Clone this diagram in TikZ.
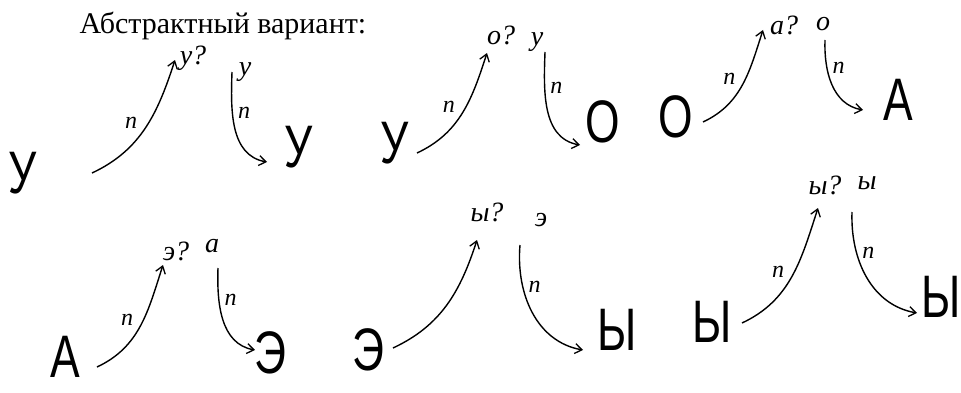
\documentclass[tikz,border=0pt]{standalone}
\usepackage{fontspec}
\setmainfont{Liberation Serif}
\newfontfamily\capsfont{Liberation Sans}
\usetikzlibrary{arrows.meta}
\tikzset{
  big/.style={inner sep=0pt, anchor=base, font=\capsfont\fontsize{60}{62}\selectfont},
  small/.style={inner sep=0pt, font=\itshape\fontsize{28}{30}\selectfont},
  lab/.style={inner sep=0pt, font=\itshape\fontsize{24}{26}\selectfont},
  arr/.style={line width=1.4pt, -{Straight Barb[length=7pt,width=10pt,line width=1.3pt]}},
}
\newcommand{\nc}[1]{\scalebox{0.74}[1]{#1}}
\begin{document}
\begin{tikzpicture}[x=1pt,y=1pt]
\useasboundingbox (0,0) rectangle (961,392);
\clip (0,0) rectangle (961,392);
\fill[white] (0,0) rectangle (961,392);
\node[font=\fontsize{30}{34}\selectfont, inner sep=0pt] (hdr) at (223,366) {Абстрактный вариант:};
% row 1
\node[big] (u1) at (23,199) {\nc{У}};
\node[small] (q1) at (193,334) {у?};
\node[small] (s1) at (245,320) {у};
\node[big] (u2) at (299,225) {\nc{У}};
\node[big] (u3) at (395,229) {\nc{У}};
\node[small] (q2) at (501,357) {о?};
\node[small] (s2) at (537,350) {у};
\node[big] (o1) at (603,250) {\nc{О}};
\node[big] (o2) at (676,255) {\nc{О}};
\node[small] (q3) at (784,367) {а?};
\node[small] (s3) at (823,368) {о};
\node[big] (a1) at (898,272) {\nc{А}};
\coordinate (a1s) at (92,219); \coordinate (a1e) at (175,332);
\coordinate (a2s) at (232,320); \coordinate (a2e) at (267,230);
\coordinate (a3s) at (417,239); \coordinate (a3e) at (487,339);
\coordinate (a4s) at (545,340); \coordinate (a4e) at (580,247);
\coordinate (a5s) at (703,270); \coordinate (a5e) at (763,362);
\coordinate (a6s) at (825,352); \coordinate (a6e) at (863,282);
\draw[arr] (a1s) to[out=25,in=-108] node[lab, pos=0.45, above left=4pt] (l1) {п} (a1e);
\draw[arr] (a2s) to[out=-92,in=170] node[lab, pos=0.35, right=5pt] (l2) {п} (a2e);
\draw[arr] (a3s) to[out=25,in=-108] node[lab, pos=0.45, above left=4pt] (l3) {п} (a3e);
\draw[arr] (a4s) to[out=-92,in=170] node[lab, pos=0.3, right=5pt] (l4) {п} (a4e);
\draw[arr] (a5s) to[out=25,in=-108] node[lab, pos=0.45, above left=4pt] (l5) {п} (a5e);
\draw[arr] (a6s) to[out=-92,in=170] node[lab, pos=0.3, right=5pt] (l6) {п} (a6e);
% row 2
\node[big] (a2) at (65,15) {\nc{А}};
\node[small] (q4) at (176,141) {э?};
\node[small] (s4) at (212,146) {а};
\node[big] (e1) at (270,19) {\nc{Э}};
\node[big] (e2) at (368,22) {\nc{Э}};
\node[small] (q5) at (487,180) {ы?};
\node[small] (s5) at (541,172) {э};
\node[big] (y1) at (617,42) {\nc{Ы}};
\node[big] (y2) at (712,50) {\nc{Ы}};
\node[small] (q6) at (825,207) {ы?};
\node[small] (s6) at (867,209) {ы};
\node[big] (y3) at (941,75) {\nc{Ы}};
\coordinate (b1s) at (97,25); \coordinate (b1e) at (163,127);
\coordinate (b2s) at (218,124); \coordinate (b2e) at (255,42);
\coordinate (b3s) at (393,44); \coordinate (b3e) at (477,152);
\coordinate (b4s) at (520,147); \coordinate (b4e) at (583,42);
\coordinate (b5s) at (742,69); \coordinate (b5e) at (818,184);
\coordinate (b6s) at (852,180); \coordinate (b6e) at (917,79);
\draw[arr] (b1s) to[out=25,in=-108] node[lab, pos=0.45, above left=4pt] (m1) {п} (b1e);
\draw[arr] (b2s) to[out=-92,in=170] node[lab, pos=0.3, right=5pt] (m2) {п} (b2e);
\draw[arr] (b3s) to[out=25,in=-108] (b3e);
\draw[arr] (b4s) to[out=-95,in=170] node[lab, pos=0.3, right=5pt] (m4) {п} (b4e);
\draw[arr] (b5s) to[out=25,in=-108] node[lab, pos=0.45, above left=4pt] (m5) {п} (b5e);
\draw[arr] (b6s) to[out=-92,in=170] node[lab, pos=0.3, right=5pt] (m6) {п} (b6e);
\end{tikzpicture}
\end{document}
